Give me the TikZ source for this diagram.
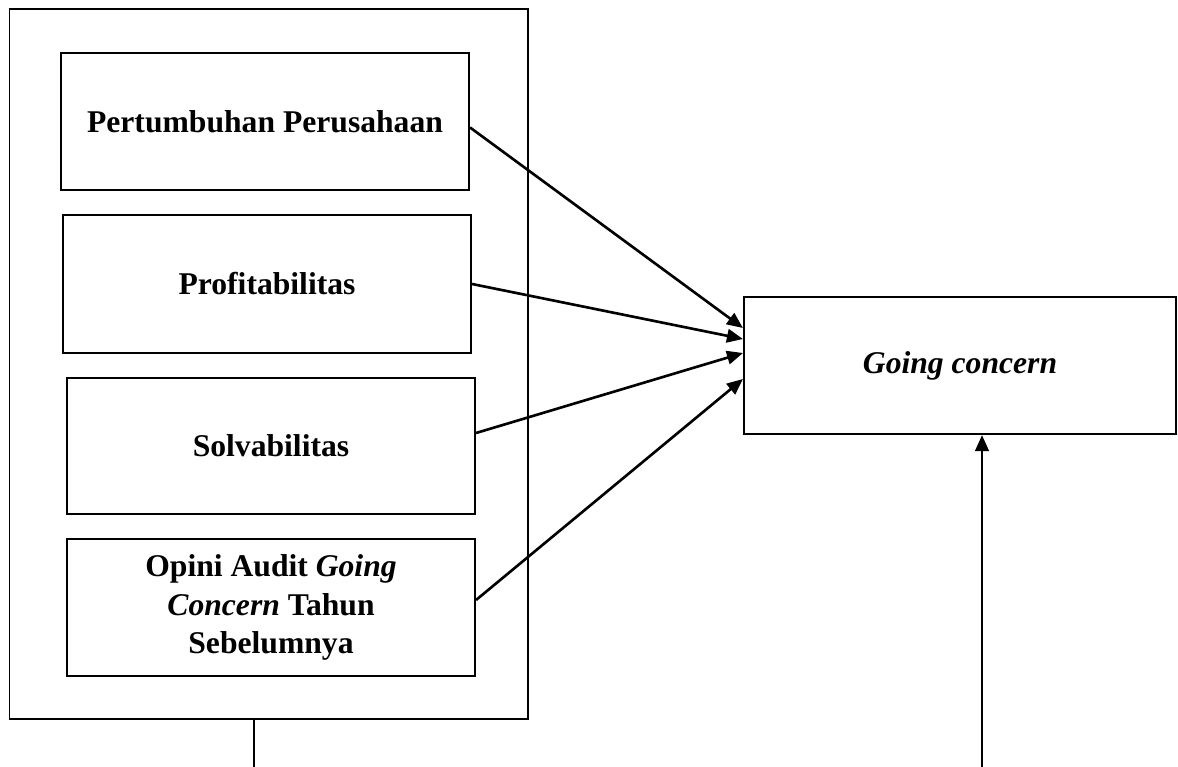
\documentclass[tikz,border=0pt]{standalone}
\usepackage{fontspec}
\setmainfont{Liberation Serif}
\usetikzlibrary{arrows.meta}
\tikzset{
  kotak/.style={draw=black, line width=1.2pt, align=center, inner sep=0pt,
    font=\fontsize{18}{22}\selectfont\bfseries},
  panah/.style={color=black, line width=1.5pt, ->}
}
\begin{document}
\begin{tikzpicture}[>={Triangle[length=0.32cm,width=0.27cm]}]
\useasboundingbox (0,0) rectangle (23.56,-15.34);
% le grand cadre autour des quatre variables
\node (luar) [draw=black, line width=1pt, minimum width=10.37cm, minimum height=14.2cm] at (5.375,-7.28) {};
\node (p1) [kotak, minimum width=8.16cm, minimum height=2.74cm] at (5.30,-2.43) {Pertumbuhan Perusahaan};
\node (p2) [kotak, minimum width=8.16cm, minimum height=2.76cm] at (5.34,-5.68) {Profitabilitas};
\node (p3) [kotak, minimum width=8.16cm, minimum height=2.72cm] at (5.42,-8.92) {Solvabilitas};
\node (p4) [kotak, minimum width=8.16cm, minimum height=2.74cm] at (5.42,-12.15)
  {Opini Audit \textit{Going}\\ \textit{Concern} Tahun\\ Sebelumnya};
\node (gc) [kotak, font=\fontsize{18}{22}\selectfont\bfseries\itshape, minimum width=8.64cm, minimum height=2.74cm] at (19.20,-7.31) {Going concern};
% les fleches vers going concern
\draw[panah] ([yshift=-0.12cm]p1.east) -- ([yshift=0.75cm]gc.west);
\draw[panah] (p2.east) -- ([yshift=0.53cm]gc.west);
\draw[panah] ([yshift=0.26cm]p3.east) -- ([yshift=0.25cm]gc.west);
\draw[panah] ([yshift=0.15cm]p4.east) -- ([yshift=-0.27cm]gc.west);
% les deux traits du bas
\coordinate (bawah1) at (5.08,-15.34);
\coordinate (bawah2) at (19.64,-15.34);
\draw[color=black, line width=1.2pt] (bawah1 |- luar.south) -- (bawah1);
\draw[panah] (bawah2) -- (bawah2 |- gc.south);
\end{tikzpicture}
\end{document}
